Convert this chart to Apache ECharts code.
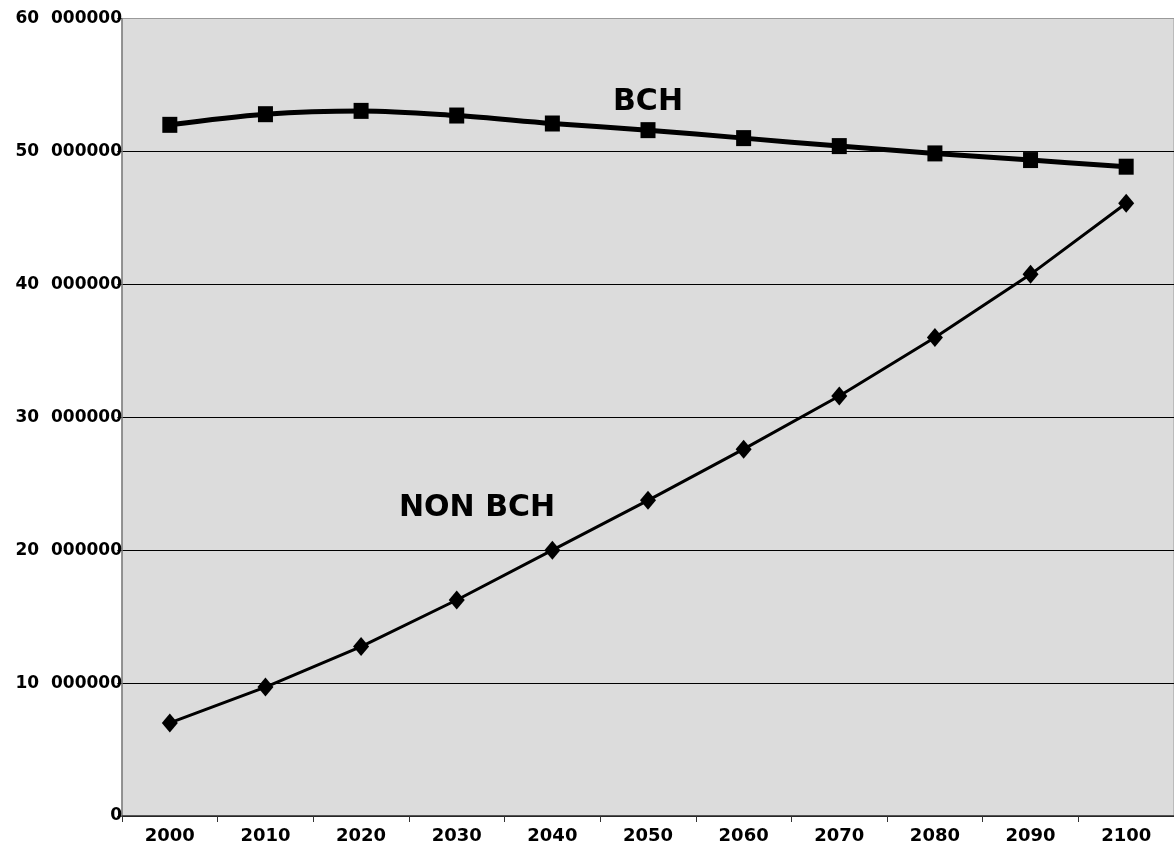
<!DOCTYPE html>
<html>
<head>
<meta charset="utf-8">
<script src="https://cdn.jsdelivr.net/npm/echarts@6/dist/echarts.min.js"></script>
<style>
html,body{margin:0;padding:0;background:#fff;}
#chart{width:1174px;height:852px;}
</style>
</head>
<body>
<div id="chart"></div>
<script>
var years = ['2000','2010','2020','2030','2040','2050','2060','2070','2080','2090','2100'];
var bch = [52.0, 52.8, 53.05, 52.7, 52.1, 51.6, 51.0, 50.4, 49.85, 49.35, 48.85];
var nonBch = [7.0, 9.7, 12.75, 16.25, 20.0, 23.75, 27.6, 31.6, 36.0, 40.75, 46.1];
var yTickLabels = {0:'0', 10:'10  000000', 20:'20  000000', 30:'30  000000', 40:'40  000000', 50:'50  000000', 60:'60  000000'};
var seriesNames = ['BCH', 'NON BCH'];

var font = 'DejaVu Sans';
var chart = echarts.init(document.getElementById('chart'));
chart.setOption({
  animation: false,
  backgroundColor: '#ffffff',
  grid: {
    left: 122, right: -2, top: 18.5, bottom: 36,
    show: true, backgroundColor: '#dcdcdc', borderColor: '#9a9a9a', borderWidth: 1
  },
  xAxis: {
    type: 'category',
    data: years,
    boundaryGap: true,
    axisLine: {lineStyle: {color: '#333', width: 1.5}},
    axisTick: {show: true, alignWithLabel: false, length: 6, lineStyle: {color: '#333'}},
    axisLabel: {color: '#000', fontFamily: font, fontWeight: 'bold', fontSize: 18, margin: 11},
    splitLine: {show: false}
  },
  yAxis: {
    type: 'value',
    min: 0, max: 60, interval: 10,
    axisLine: {show: true, lineStyle: {color: '#808080', width: 1.5}},
    axisTick: {show: true, length: 5, lineStyle: {color: '#555'}},
    axisLabel: {
      color: '#000', fontFamily: font, fontWeight: 'bold', fontSize: 17, margin: 0,
      formatter: function (v) { return yTickLabels[v]; }
    },
    splitLine: {show: true, lineStyle: {color: ['#000','#000','#000','#000','#000','#000','#9a9a9a'], width: 1}}
  },
  series: [
    {
      name: seriesNames[0], type: 'line', data: bch, smooth: 0.35,
      symbol: 'rect', symbolSize: [15, 16], showAllSymbol: true,
      lineStyle: {color: '#000', width: 5},
      itemStyle: {color: '#000'}, z: 3
    },
    {
      name: seriesNames[1], type: 'line', data: nonBch, smooth: false,
      symbol: 'diamond', symbolSize: [16, 19], showAllSymbol: true,
      lineStyle: {color: '#000', width: 3},
      itemStyle: {color: '#000'}, z: 3
    }
  ],
  graphic: [
    {type: 'text', left: 613, top: 87, z: 10,
     style: {text: seriesNames[0], fill: '#000', font: 'bold 30px "DejaVu Sans"'}},
    {type: 'text', left: 399, top: 493, z: 10,
     style: {text: seriesNames[1], fill: '#000', font: 'bold 30px "DejaVu Sans"'}}
  ]
});
</script>
</body>
</html>
